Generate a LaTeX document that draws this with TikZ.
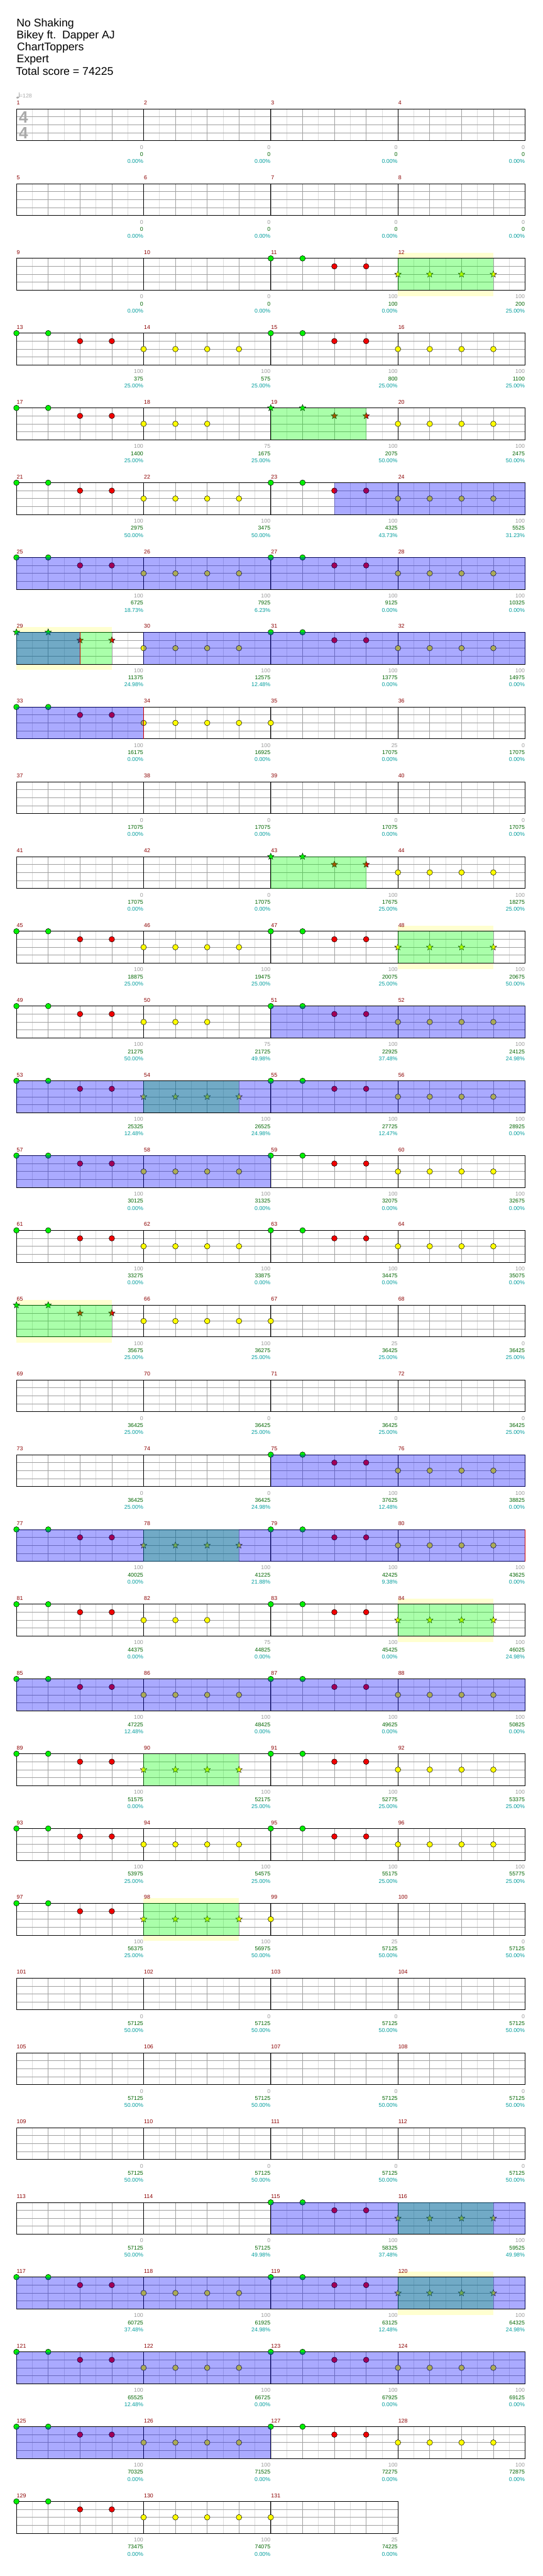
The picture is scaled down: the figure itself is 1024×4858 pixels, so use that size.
\documentclass[tikz,border=0pt]{standalone}
\usepackage{fontspec}
\setmainfont{Liberation Sans}
\usetikzlibrary{shapes.geometric}
\definecolor{barred}{HTML}{8B0000}
\definecolor{basegray}{HTML}{999999}
\definecolor{totalgreen}{HTML}{006400}
\definecolor{pctcyan}{HTML}{009C9C}
\definecolor{fretgreen}{HTML}{00F000}
\definecolor{fretred}{HTML}{F00000}
\definecolor{fretyellow}{HTML}{FFFF00}
\definecolor{bandyellow}{HTML}{FFFFD0}
\definecolor{gridmajor}{HTML}{A0A0A0}
\definecolor{gridminor}{HTML}{DCDCDC}
\definecolor{tempogray}{HTML}{AAAAAA}
\newcommand\chsmall{\fontsize{10.5}{12}\selectfont}
% x, y of measure #1 (left end, top line)
\newcommand\mpos[1]{%
  \pgfmathtruncatemacro\mrow{(#1-1)/4}%
  \pgfmathsetmacro\mx{31+240*(#1-1-4*\mrow)}%
  \pgfmathsetmacro\my{205.3+141*\mrow}}
\tikzset{
  chnote/.style={circle, draw=black, line width=0.6pt, minimum size=10.5pt, inner sep=0pt},
  chstar/.style={star, star points=5, star point ratio=2.3, draw=black, line width=0.5pt,
    minimum size=13pt, inner sep=0pt},
  chtitle/.style={font=\fontsize{21}{23}\selectfont, anchor=base west, inner sep=0pt},
  chnum/.style={font=\chsmall, text=barred, anchor=base west, inner sep=0pt},
  chbase/.style={font=\chsmall, text=basegray, anchor=base east, inner sep=0pt},
  chtotal/.style={chbase, text=totalgreen},
  chpct/.style={chbase, text=pctcyan},
  chmajor/.style={draw=gridmajor, line width=0.8pt},
  chminor/.style={draw=gridminor, line width=0.8pt},
  chbar/.style={draw=black, line width=0.9pt},
  chsp/.style={fill=green, fill opacity=0.333},
  chact/.style={fill=blue, fill opacity=0.333},
  chband/.style={fill=bandyellow},
  chend/.style={draw=red!80!black, line width=0.8pt},
}

\begin{document}
\begin{tikzpicture}[x=1pt, y=-1pt]
  \useasboundingbox (0,0) rectangle (1024,4858);

  % header
  \node[chtitle] (song) at (31,50) {No Shaking};
  \node[chtitle] (artist) at (31,73) {Bikey ft.\ \ Dapper AJ};
  \node[chtitle] (charter) at (32,96) {ChartToppers};
  \node[chtitle] (level) at (31.5,118.5) {Expert};
  \node[chtitle] (total) at (30,141.3) {Total score = 74225};
  \fill[tempogray, rotate around={20:(33.3,184)}] (33.3,184) ellipse (2.5pt and 1.8pt);
  \draw[tempogray, line width=0.7pt] (35.5,184) -- (35.5,174);
  \node[font=\chsmall, text=tempogray, anchor=base west, inner sep=0pt] (tempo) at (36.5,185) {=128};

  % star power phrase bands
  \foreach \rw/\xa/\xb in {2/751/931, 7/31/211, 11/751/931, 16/31/211, 20/751/931, 24/271/451, 29/751/931} {
    \pgfmathsetmacro\rowy{205.3+141*\rw}
    \fill[chband] (\xa,{\rowy-10}) rectangle (\xb,{\rowy+71});
  }

  % staves
  \foreach \rw in {0,...,32} {
    \pgfmathsetmacro\rowy{205.3+141*\rw}
    \pgfmathsetmacro\rowend{\rw==32 ? 751 : 991}
    \pgfmathtruncatemacro\rowlast{\rw==32 ? 11 : 15}
    \fill[white] (31,\rowy) rectangle (\rowend,{\rowy+60});
    \foreach \j in {0,...,\rowlast} \draw[chminor] ({61+60*\j},\rowy) -- ++(0,60);
    \foreach \j in {1,...,\rowlast} \draw[chmajor] ({31+60*\j},\rowy) -- ++(0,60);
    \foreach \k in {1,2,3} \draw[chmajor] (31,{\rowy+15*\k}) -- (\rowend,{\rowy+15*\k});
    \foreach \xb in {271,511,751} \draw[chbar] (\xb,\rowy) -- ++(0,60);
    \draw[chbar] (31,\rowy) rectangle (\rowend,{\rowy+60});
  }
  \node[font=\fontsize{31}{31}\selectfont\bfseries, text=tempogray, anchor=base west, inner sep=0pt]
    (sigtop) at (35.5,231.7) {4};
  \node[font=\fontsize{31}{31}\selectfont\bfseries, text=tempogray, anchor=base west, inner sep=0pt]
    (sigbot) at (35.5,261.7) {4};

  % notes
  \foreach \m in {11,13,15,17,21,23,25,27,31,33,45,47,49,51,53,55,57,59,61,63,75,77,79,81,83,85,
                  87,89,91,93,95,97,115,117,119,121,123,125,127,129} {
    \mpos{\m}
    \node[chnote, fill=fretgreen] (ga\m) at (\mx,\my) {};
    \node[chnote, fill=fretgreen] (gb\m) at ({\mx+60},\my) {};
    \node[chnote, fill=fretred] (ra\m) at ({\mx+120},{\my+15}) {};
    \node[chnote, fill=fretred] (rb\m) at ({\mx+180},{\my+15}) {};
  }
  \foreach \m in {14,16,20,22,24,26,28,30,32,34,44,46,52,56,58,60,62,64,66,76,80,86,88,92,94,96,
                  118,122,124,126,128,130} {
    \mpos{\m}
    \foreach \k in {0,...,3}
      \node[chnote, fill=fretyellow] (y\k m\m) at ({\mx+60*\k},{\my+30}) {};
  }
  \foreach \m in {18,50,82} {
    \mpos{\m}
    \foreach \k in {0,1,2}
      \node[chnote, fill=fretyellow] (y\k m\m) at ({\mx+60*\k},{\my+30}) {};
  }
  \foreach \m in {35,67,99,131} {
    \mpos{\m}
    \node[chnote, fill=fretyellow] (y0m\m) at (\mx,{\my+30}) {};
  }
  \foreach \m in {19,29,43,65} {
    \mpos{\m}
    \node[chstar, fill=fretgreen] (sga\m) at (\mx,\my) {};
    \node[chstar, fill=fretgreen] (sgb\m) at ({\mx+60},\my) {};
    \node[chstar, fill=fretred] (sra\m) at ({\mx+120},{\my+15}) {};
    \node[chstar, fill=fretred] (srb\m) at ({\mx+180},{\my+15}) {};
  }
  \foreach \m in {12,48,54,78,84,90,98,116,120} {
    \mpos{\m}
    \foreach \k in {0,...,3}
      \node[chstar, fill=fretyellow] (sy\k m\m) at ({\mx+60*\k},{\my+30}) {};
  }

  % star power phrases and activations
  \foreach \rw/\xa/\xb in {2/751/931, 4/511/691, 7/31/211, 10/511/691, 11/751/931, 13/271/451,
                           16/31/211, 19/271/451, 20/751/931, 22/271/451, 24/271/451, 28/751/931,
                           29/751/931} {
    \pgfmathsetmacro\rowy{205.3+141*\rw}
    \fill[chsp] (\xa,\rowy) rectangle (\xb,{\rowy+60});
  }
  \foreach \rw/\xa/\xb in {5/631/991, 6/31/991, 7/31/151, 7/271/991, 8/31/271, 12/511/991,
                           13/31/991, 14/31/511, 18/511/991, 19/31/991, 21/31/991, 28/511/991,
                           29/31/991, 30/31/991, 31/31/511} {
    \pgfmathsetmacro\rowy{205.3+141*\rw}
    \fill[chact] (\xa,\rowy) rectangle (\xb,{\rowy+60});
  }
  \foreach \rw/\xa in {7/151, 8/271, 19/991} {
    \pgfmathsetmacro\rowy{205.3+141*\rw}
    \draw[chend] (\xa,\rowy) -- ++(0,60);
  }

  % measure numbers and scores
  \foreach \m/\vbase/\vtot/\vpct in {
      1/0/0/0.00, 2/0/0/0.00, 3/0/0/0.00, 4/0/0/0.00,
      5/0/0/0.00, 6/0/0/0.00, 7/0/0/0.00, 8/0/0/0.00,
      9/0/0/0.00, 10/0/0/0.00, 11/100/100/0.00, 12/100/200/25.00,
      13/100/375/25.00, 14/100/575/25.00, 15/100/800/25.00, 16/100/1100/25.00,
      17/100/1400/25.00, 18/75/1675/25.00, 19/100/2075/50.00, 20/100/2475/50.00,
      21/100/2975/50.00, 22/100/3475/50.00, 23/100/4325/43.73, 24/100/5525/31.23,
      25/100/6725/18.73, 26/100/7925/6.23, 27/100/9125/0.00, 28/100/10325/0.00,
      29/100/11375/24.98, 30/100/12575/12.48, 31/100/13775/0.00, 32/100/14975/0.00,
      33/100/16175/0.00, 34/100/16925/0.00, 35/25/17075/0.00, 36/0/17075/0.00,
      37/0/17075/0.00, 38/0/17075/0.00, 39/0/17075/0.00, 40/0/17075/0.00,
      41/0/17075/0.00, 42/0/17075/0.00, 43/100/17675/25.00, 44/100/18275/25.00,
      45/100/18875/25.00, 46/100/19475/25.00, 47/100/20075/25.00, 48/100/20675/50.00,
      49/100/21275/50.00, 50/75/21725/49.98, 51/100/22925/37.48, 52/100/24125/24.98,
      53/100/25325/12.48, 54/100/26525/24.98, 55/100/27725/12.47, 56/100/28925/0.00,
      57/100/30125/0.00, 58/100/31325/0.00, 59/100/32075/0.00, 60/100/32675/0.00,
      61/100/33275/0.00, 62/100/33875/0.00, 63/100/34475/0.00, 64/100/35075/0.00,
      65/100/35675/25.00, 66/100/36275/25.00, 67/25/36425/25.00, 68/0/36425/25.00,
      69/0/36425/25.00, 70/0/36425/25.00, 71/0/36425/25.00, 72/0/36425/25.00,
      73/0/36425/25.00, 74/0/36425/24.98, 75/100/37625/12.48, 76/100/38825/0.00,
      77/100/40025/0.00, 78/100/41225/21.88, 79/100/42425/9.38, 80/100/43625/0.00,
      81/100/44375/0.00, 82/75/44825/0.00, 83/100/45425/0.00, 84/100/46025/24.98,
      85/100/47225/12.48, 86/100/48425/0.00, 87/100/49625/0.00, 88/100/50825/0.00,
      89/100/51575/0.00, 90/100/52175/25.00, 91/100/52775/25.00, 92/100/53375/25.00,
      93/100/53975/25.00, 94/100/54575/25.00, 95/100/55175/25.00, 96/100/55775/25.00,
      97/100/56375/25.00, 98/100/56975/50.00, 99/25/57125/50.00, 100/0/57125/50.00,
      101/0/57125/50.00, 102/0/57125/50.00, 103/0/57125/50.00, 104/0/57125/50.00,
      105/0/57125/50.00, 106/0/57125/50.00, 107/0/57125/50.00, 108/0/57125/50.00,
      109/0/57125/50.00, 110/0/57125/50.00, 111/0/57125/50.00, 112/0/57125/50.00,
      113/0/57125/50.00, 114/0/57125/49.98, 115/100/58325/37.48, 116/100/59525/49.98,
      117/100/60725/37.48, 118/100/61925/24.98, 119/100/63125/12.48, 120/100/64325/24.98,
      121/100/65525/12.48, 122/100/66725/0.00, 123/100/67925/0.00, 124/100/69125/0.00,
      125/100/70325/0.00, 126/100/71525/0.00, 127/100/72275/0.00, 128/100/72875/0.00,
      129/100/73475/0.00, 130/100/74075/0.00, 131/25/74225/0.00} {
    \mpos{\m}
    \node[chnum] (num\m) at ({\mx+0.5},{\my-7.6}) {\m};
    \node[chbase] (base\m) at ({\mx+239.5},{\my+76}) {\vbase};
    \node[chtotal] (tot\m) at ({\mx+239.5},{\my+89.5}) {\vtot};
    \node[chpct] (pct\m) at ({\mx+239.5},{\my+102.7}) {\vpct\%};
  }
\end{tikzpicture}
\end{document}
